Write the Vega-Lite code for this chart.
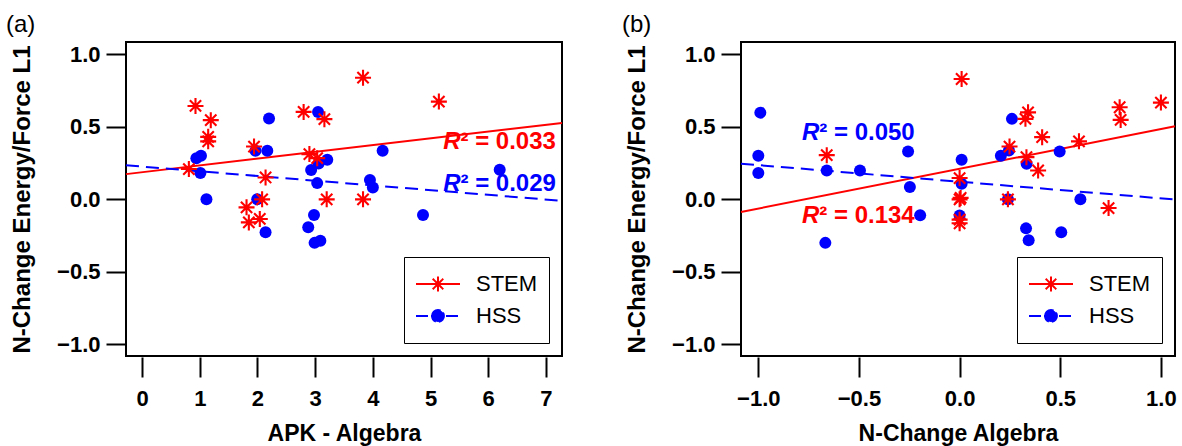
{
  "$schema": "https://vega.github.io/schema/vega-lite/v6.json",
  "padding": {"left": 5, "top": 12, "right": 2, "bottom": 0},
  "spacing": 54,
  "config": {
    "font": "Liberation Sans",
    "view": {"stroke": "black", "strokeWidth": 2},
    "axis": {"domain": false, "grid": false, "tickColor": "black", "tickWidth": 2, "tickSize": 20,
      "labelFont": "Liberation Sans", "labelFontWeight": "bold", "labelFontSize": 22, "labelColor": "black",
      "titleFont": "Liberation Sans", "titleFontSize": 23, "titleFontWeight": "bold", "titleColor": "black"},
    "axisX": {"labelPadding": 11, "titlePadding": 13, "offset": 1},
    "axisY": {"labelPadding": 6, "titlePadding": 22, "titleFontSize": 24},
    "title": {"fontSize": 24, "fontWeight": "normal", "anchor": "start", "frame": "group", "color": "black", "offset": 5, "font": "Liberation Sans"},
    "legend": {"title": null, "orient": "bottom-right", "offset": 13, "padding": 11,
      "strokeColor": "black", "fillColor": "white",
      "labelFont": "Liberation Sans", "labelFontSize": 22, "labelColor": "black", "labelFontWeight": "normal",
      "labelOffset": 15, "symbolSize": 1936, "symbolStrokeWidth": 2, "symbolOpacity": 1, "clipHeight": 32, "rowPadding": 0}
  },
  "datasets": {
    "pointsA": [
      {"x": 0.94, "y": 0.284, "group": "HSS"}, {"x": 1.02, "y": 0.30, "group": "HSS"}, {"x": 1.01, "y": 0.181, "group": "HSS"},
      {"x": 1.115, "y": 0.0, "group": "HSS"}, {"x": 2.20, "y": 0.557, "group": "HSS"}, {"x": 1.965, "y": 0.335, "group": "HSS"},
      {"x": 2.17, "y": 0.335, "group": "HSS"}, {"x": 1.995, "y": 0.0, "group": "HSS"}, {"x": 2.14, "y": -0.227, "group": "HSS"},
      {"x": 3.05, "y": 0.603, "group": "HSS"}, {"x": 3.21, "y": 0.273, "group": "HSS"}, {"x": 3.06, "y": 0.247, "group": "HSS"},
      {"x": 2.93, "y": 0.202, "group": "HSS"}, {"x": 3.035, "y": 0.112, "group": "HSS"}, {"x": 2.98, "y": -0.108, "group": "HSS"},
      {"x": 2.88, "y": -0.193, "group": "HSS"}, {"x": 2.99, "y": -0.30, "group": "HSS"}, {"x": 3.09, "y": -0.285, "group": "HSS"},
      {"x": 4.17, "y": 0.335, "group": "HSS"}, {"x": 3.95, "y": 0.133, "group": "HSS"}, {"x": 4.0, "y": 0.082, "group": "HSS"},
      {"x": 4.87, "y": -0.108, "group": "HSS"}, {"x": 6.20, "y": 0.204, "group": "HSS"},
      {"x": 0.925, "y": 0.644, "group": "STEM"}, {"x": 1.19, "y": 0.546, "group": "STEM"}, {"x": 1.145, "y": 0.431, "group": "STEM"},
      {"x": 1.145, "y": 0.40, "group": "STEM"}, {"x": 0.81, "y": 0.209, "group": "STEM"}, {"x": 1.94, "y": 0.364, "group": "STEM"},
      {"x": 2.14, "y": 0.151, "group": "STEM"}, {"x": 2.08, "y": 0.0, "group": "STEM"}, {"x": 1.81, "y": -0.055, "group": "STEM"},
      {"x": 1.85, "y": -0.159, "group": "STEM"}, {"x": 2.04, "y": -0.135, "group": "STEM"}, {"x": 2.80, "y": 0.603, "group": "STEM"},
      {"x": 3.16, "y": 0.553, "group": "STEM"}, {"x": 2.90, "y": 0.312, "group": "STEM"}, {"x": 3.035, "y": 0.284, "group": "STEM"},
      {"x": 3.20, "y": 0.0, "group": "STEM"}, {"x": 3.83, "y": 0.839, "group": "STEM"}, {"x": 3.83, "y": 0.0, "group": "STEM"},
      {"x": 5.145, "y": 0.674, "group": "STEM"}
    ],
    "linesA": [
      {"x": -0.28, "y": 0.174, "group": "STEM"}, {"x": 7.28, "y": 0.527, "group": "STEM"},
      {"x": -0.28, "y": 0.235, "group": "HSS"}, {"x": 7.28, "y": -0.01, "group": "HSS"}
    ],
    "labelsA": [
      {"x": 5.52, "y": 0.397, "group": "STEM", "rest": "² = 0.033"},
      {"x": 5.52, "y": 0.105, "group": "HSS", "rest": "² = 0.029"}
    ],
    "pointsB": [
      {"x": -0.99, "y": 0.598, "group": "HSS"}, {"x": -1.0, "y": 0.30, "group": "HSS"}, {"x": -1.0, "y": 0.181, "group": "HSS"},
      {"x": -0.66, "y": 0.199, "group": "HSS"}, {"x": -0.495, "y": 0.199, "group": "HSS"}, {"x": -0.667, "y": -0.30, "group": "HSS"},
      {"x": -0.256, "y": 0.33, "group": "HSS"}, {"x": -0.247, "y": 0.085, "group": "HSS"}, {"x": -0.196, "y": -0.11, "group": "HSS"},
      {"x": 0.26, "y": 0.555, "group": "HSS"}, {"x": 0.245, "y": 0.337, "group": "HSS"}, {"x": 0.205, "y": 0.30, "group": "HSS"},
      {"x": 0.333, "y": 0.245, "group": "HSS"}, {"x": 0.497, "y": 0.33, "group": "HSS"}, {"x": 0.01, "y": 0.273, "group": "HSS"},
      {"x": 0.01, "y": 0.108, "group": "HSS"}, {"x": 0.24, "y": 0.0, "group": "HSS"}, {"x": 0.60, "y": 0.0, "group": "HSS"},
      {"x": 0.0, "y": -0.112, "group": "HSS"}, {"x": 0.33, "y": -0.20, "group": "HSS"}, {"x": 0.343, "y": -0.282, "group": "HSS"},
      {"x": 0.505, "y": -0.227, "group": "HSS"},
      {"x": 0.01, "y": 0.83, "group": "STEM"}, {"x": 1.0, "y": 0.667, "group": "STEM"}, {"x": 0.795, "y": 0.635, "group": "STEM"},
      {"x": 0.80, "y": 0.548, "group": "STEM"}, {"x": 0.34, "y": 0.60, "group": "STEM"}, {"x": 0.327, "y": 0.555, "group": "STEM"},
      {"x": 0.41, "y": 0.429, "group": "STEM"}, {"x": 0.593, "y": 0.40, "group": "STEM"}, {"x": 0.248, "y": 0.364, "group": "STEM"},
      {"x": -0.66, "y": 0.305, "group": "STEM"}, {"x": 0.332, "y": 0.291, "group": "STEM"}, {"x": 0.39, "y": 0.199, "group": "STEM"},
      {"x": 0.0, "y": 0.147, "group": "STEM"}, {"x": 0.0, "y": 0.0, "group": "STEM"}, {"x": 0.005, "y": 0.01, "group": "STEM"},
      {"x": 0.24, "y": 0.0, "group": "STEM"}, {"x": 0.74, "y": -0.06, "group": "STEM"}, {"x": 0.0, "y": -0.14, "group": "STEM"},
      {"x": 0.0, "y": -0.165, "group": "STEM"}
    ],
    "linesB": [
      {"x": -1.086, "y": -0.087, "group": "STEM"}, {"x": 1.07, "y": 0.504, "group": "STEM"},
      {"x": -1.086, "y": 0.246, "group": "HSS"}, {"x": 1.07, "y": -0.001, "group": "HSS"}
    ],
    "labelsB": [
      {"x": -0.697, "y": 0.456, "group": "HSS", "rest": "² = 0.050"},
      {"x": -0.697, "y": -0.117, "group": "STEM", "rest": "² = 0.134"}
    ]
  },
  "resolve": {
    "scale": {"x": "independent", "y": "independent", "shape": "independent", "stroke": "independent", "fill": "independent", "strokeDash": "independent"},
    "legend": {"shape": "independent", "stroke": "independent", "fill": "independent", "strokeDash": "independent"}
  },
  "hconcat": [
    {
      "title": {"text": "(a)", "dx": -120},
      "width": 436, "height": 314,
      "encoding": {
        "x": {"field": "x", "type": "quantitative", "title": "APK - Algebra",
          "scale": {"domain": [-0.28, 7.28], "nice": false, "zero": false},
          "axis": {"values": [0, 1, 2, 3, 4, 5, 6, 7], "format": "d"}},
        "y": {"field": "y", "type": "quantitative", "title": "N-Change Energy/Force L1",
          "scale": {"domain": [-1.08, 1.085], "nice": false, "zero": false},
          "axis": {"values": [-1, -0.5, 0, 0.5, 1], "format": ".1f"}}
      },
      "layer": [
        {
          "data": {"name": "linesA"},
          "transform": [{"filter": "datum.group === 'STEM'"}],
          "mark": {"type": "line", "strokeWidth": 2, "color": "#ff0000"},
          "encoding": {}
        },
        {
          "data": {"name": "linesA"},
          "transform": [{"filter": "datum.group === 'HSS'"}],
          "mark": {"type": "line", "strokeWidth": 2, "color": "#0000ff", "strokeDash": [13, 7]},
          "encoding": {}
        },
        {
          "data": {"name": "pointsA"},
          "transform": [{"filter": "datum.group === 'HSS'"}],
          "mark": {"type": "point", "shape": "circle", "size": 144, "filled": true, "color": "#0000ff", "opacity": 1}
        },
        {
          "data": {"name": "pointsA"},
          "transform": [{"filter": "datum.group === 'STEM'"}],
          "mark": {"type": "point", "shape": "M-1,0L1,0M0,-1L0,1M-0.7071,-0.7071L0.7071,0.7071M-0.7071,0.7071L0.7071,-0.7071", "size": 256, "strokeWidth": 2.1, "filled": false, "color": "#ff0000", "opacity": 1}
        },
        {
          "data": {"name": "pointsA"},
          "transform": [{"filter": "false"}],
          "mark": {"type": "point", "strokeWidth": 2, "filled": false, "opacity": 1},
          "encoding": {
            "shape": {"field": "group", "type": "nominal", "scale": {"domain": ["STEM", "HSS"], "range": ["M-1,0L1,0M0,-0.34L0,0.34M-0.24,-0.24L0.24,0.24M-0.24,0.24L0.24,-0.24", "M-1,0L1,0M-0.27,0A0.27,0.27,0,1,1,0.27,0A0.27,0.27,0,1,1,-0.27,0Z"]}},
            "stroke": {"field": "group", "type": "nominal", "scale": {"domain": ["STEM", "HSS"], "range": ["#ff0000", "#0000ff"]}},
            "fill": {"field": "group", "type": "nominal", "scale": {"domain": ["STEM", "HSS"], "range": ["transparent", "#0000ff"]}},
            "strokeDash": {"field": "group", "type": "nominal", "scale": {"domain": ["STEM", "HSS"], "range": [[1, 0], [12, 3]]}}
          }
        },
        {
          "data": {"name": "labelsA"},
          "mark": {"type": "text", "text": "R", "font": "Liberation Sans", "fontSize": 24, "fontWeight": "bold", "fontStyle": "italic", "align": "right", "baseline": "middle"},
          "encoding": {"color": {"condition": {"test": "datum.group === 'STEM'", "value": "#ff0000"}, "value": "#0000ff"}}
        },
        {
          "data": {"name": "labelsA"},
          "mark": {"type": "text", "font": "Liberation Sans", "fontSize": 24, "fontWeight": "bold", "align": "left", "baseline": "middle"},
          "encoding": {"text": {"field": "rest", "type": "nominal"}, "color": {"condition": {"test": "datum.group === 'STEM'", "value": "#ff0000"}, "value": "#0000ff"}}
        }
      ]
    },
    {
      "title": {"text": "(b)", "dx": -119},
      "width": 434, "height": 314,
      "encoding": {
        "x": {"field": "x", "type": "quantitative", "title": "N-Change Algebra",
          "scale": {"domain": [-1.086, 1.07], "nice": false, "zero": false},
          "axis": {"values": [-1, -0.5, 0, 0.5, 1], "format": ".1f"}},
        "y": {"field": "y", "type": "quantitative", "title": "N-Change Energy/Force L1",
          "scale": {"domain": [-1.08, 1.085], "nice": false, "zero": false},
          "axis": {"values": [-1, -0.5, 0, 0.5, 1], "format": ".1f"}}
      },
      "layer": [
        {
          "data": {"name": "linesB"},
          "transform": [{"filter": "datum.group === 'STEM'"}],
          "mark": {"type": "line", "strokeWidth": 2, "color": "#ff0000"},
          "encoding": {}
        },
        {
          "data": {"name": "linesB"},
          "transform": [{"filter": "datum.group === 'HSS'"}],
          "mark": {"type": "line", "strokeWidth": 2, "color": "#0000ff", "strokeDash": [13, 7]},
          "encoding": {}
        },
        {
          "data": {"name": "pointsB"},
          "transform": [{"filter": "datum.group === 'HSS'"}],
          "mark": {"type": "point", "shape": "circle", "size": 144, "filled": true, "color": "#0000ff", "opacity": 1}
        },
        {
          "data": {"name": "pointsB"},
          "transform": [{"filter": "datum.group === 'STEM'"}],
          "mark": {"type": "point", "shape": "M-1,0L1,0M0,-1L0,1M-0.7071,-0.7071L0.7071,0.7071M-0.7071,0.7071L0.7071,-0.7071", "size": 256, "strokeWidth": 2.1, "filled": false, "color": "#ff0000", "opacity": 1}
        },
        {
          "data": {"name": "pointsB"},
          "transform": [{"filter": "false"}],
          "mark": {"type": "point", "strokeWidth": 2, "filled": false, "opacity": 1},
          "encoding": {
            "shape": {"field": "group", "type": "nominal", "scale": {"domain": ["STEM", "HSS"], "range": ["M-1,0L1,0M0,-0.34L0,0.34M-0.24,-0.24L0.24,0.24M-0.24,0.24L0.24,-0.24", "M-1,0L1,0M-0.27,0A0.27,0.27,0,1,1,0.27,0A0.27,0.27,0,1,1,-0.27,0Z"]}},
            "stroke": {"field": "group", "type": "nominal", "scale": {"domain": ["STEM", "HSS"], "range": ["#ff0000", "#0000ff"]}},
            "fill": {"field": "group", "type": "nominal", "scale": {"domain": ["STEM", "HSS"], "range": ["transparent", "#0000ff"]}},
            "strokeDash": {"field": "group", "type": "nominal", "scale": {"domain": ["STEM", "HSS"], "range": [[1, 0], [12, 3]]}}
          }
        },
        {
          "data": {"name": "labelsB"},
          "mark": {"type": "text", "text": "R", "font": "Liberation Sans", "fontSize": 24, "fontWeight": "bold", "fontStyle": "italic", "align": "right", "baseline": "middle"},
          "encoding": {"color": {"condition": {"test": "datum.group === 'STEM'", "value": "#ff0000"}, "value": "#0000ff"}}
        },
        {
          "data": {"name": "labelsB"},
          "mark": {"type": "text", "font": "Liberation Sans", "fontSize": 24, "fontWeight": "bold", "align": "left", "baseline": "middle"},
          "encoding": {"text": {"field": "rest", "type": "nominal"}, "color": {"condition": {"test": "datum.group === 'STEM'", "value": "#ff0000"}, "value": "#0000ff"}}
        }
      ]
    }
  ]
}
